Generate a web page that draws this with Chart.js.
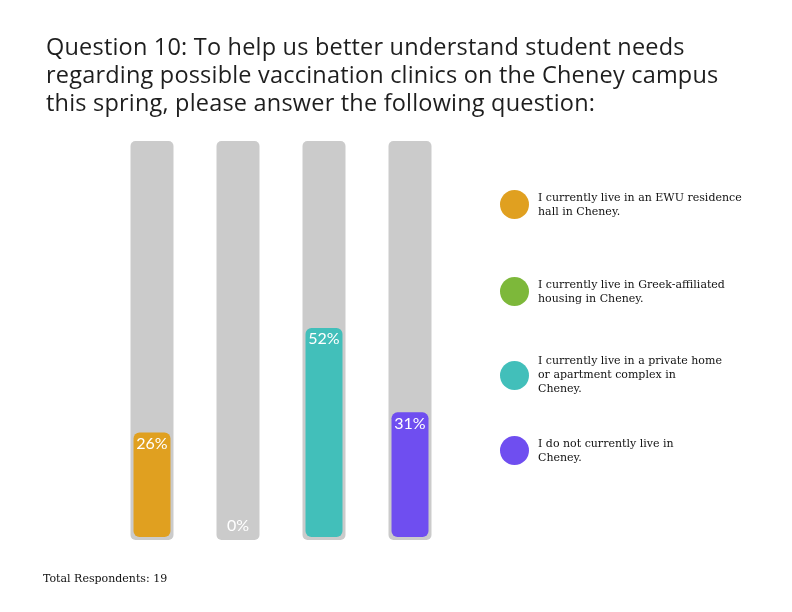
<!DOCTYPE html>
<html>
<head>
<meta charset="utf-8">
<script src="https://cdn.jsdelivr.net/npm/chart.js@4.4.1/dist/chart.umd.min.js"></script>
<style>
  body { margin: 0; background: #fff; }
  #wrap { position: relative; width: 792px; height: 612px; }
  #grafico { position: absolute; left: 0; top: 0; }
  #titulo { position: absolute; left: 46px; top: 32px; font-family: "Open Sans", sans-serif; font-size: 23.5px; letter-spacing: 0.2px; line-height: 28px; color: #1e1e1e; white-space: nowrap; }
  #legenda { position: absolute; left: 0; top: 0; }
  .item { position: absolute; left: 500px; display: flex; align-items: center; }
  .bola { width: 29px; height: 29px; border-radius: 50%; margin-right: 9px; flex: none; }
  .txt { font-family: "DejaVu Serif", serif; font-size: 11px; line-height: 14px; color: #111; white-space: nowrap; }
  #rodape { position: absolute; left: 43px; top: 572px; font-family: "DejaVu Serif", serif; font-size: 11px; color: #111; }
</style>
</head>
<body>
<div id="wrap">
  <canvas id="grafico" width="792" height="612"></canvas>
  <div id="titulo">Question 10: To help us better understand student needs<br>regarding possible vaccination clinics on the Cheney campus<br>this spring, please answer the following question:</div>
  <div id="legenda"></div>
  <div id="rodape">Total Respondents: 19</div>
</div>
<script>
// Dados (cada categoria quebrada em linhas como na legenda original)
const categorias = [
  ['I currently live in an EWU residence', 'hall in Cheney.'],
  ['I currently live in Greek-affiliated', 'housing in Cheney.'],
  ['I currently live in a private home', 'or apartment complex in', 'Cheney.'],
  ['I do not currently live in', 'Cheney.']
];
const percentuais = [26, 0, 52, 31];
const cores = ['#E0A020', '#7DB83A', '#42BFBA', '#6F4EF0'];
const trilha = [100, 100, 100, 100];

// Legenda em HTML (texto com quebra de linha)
const centroLegenda = [204, 291, 375, 450];
const legenda = document.getElementById('legenda');
categorias.forEach((linhas, i) => {
  const item = document.createElement('div');
  item.className = 'item';
  item.style.top = (centroLegenda[i] - linhas.length * 7) + 'px';
  item.innerHTML = `<div class="bola" style="background:${cores[i]}"></div><div class="txt">${linhas.join('<br>')}</div>`;
  legenda.appendChild(item);
});

// Plugin simples para escrever os percentuais dentro das barras
const rotulos = {
  id: 'rotulos',
  afterDatasetsDraw(chart) {
    const ctx = chart.ctx;
    const meta = chart.getDatasetMeta(1);
    ctx.save();
    ctx.font = '16px Lato, sans-serif';
    ctx.fillStyle = '#ffffff';
    ctx.textAlign = 'center';
    ctx.textBaseline = 'middle';
    meta.data.forEach((bar, i) => {
      const v = percentuais[i];
      const y = v > 0 ? bar.y + 11 : bar.base - 11;
      ctx.fillText(v + '%', bar.x, y);
    });
    ctx.restore();
  }
};

new Chart(document.getElementById('grafico'), {
  type: 'bar',
  data: {
    labels: categorias.map(l => l.join(' ')),
    datasets: [
      {
        data: trilha.map(v => [-0.75, v - 1.5]),
        backgroundColor: '#CBCBCB',
        borderRadius: 5,
        borderSkipped: false,
        barPercentage: 0.5,
        categoryPercentage: 1,
        grouped: false,
        order: 2
      },
      {
        data: percentuais,
        backgroundColor: cores,
        borderRadius: 6,
        borderSkipped: false,
        barPercentage: 0.43,
        categoryPercentage: 1,
        grouped: false,
        order: 1
      }
    ]
  },
  options: {
    responsive: false,
    animation: false,
    layout: { padding: { left: 109, right: 339, top: 135, bottom: 72 } },
    plugins: { legend: { display: false }, tooltip: { enabled: false } },
    scales: {
      x: { display: false },
      y: { display: false, min: -0.75, max: 100 }
    }
  },
  plugins: [rotulos]
});
</script>
</body>
</html>
